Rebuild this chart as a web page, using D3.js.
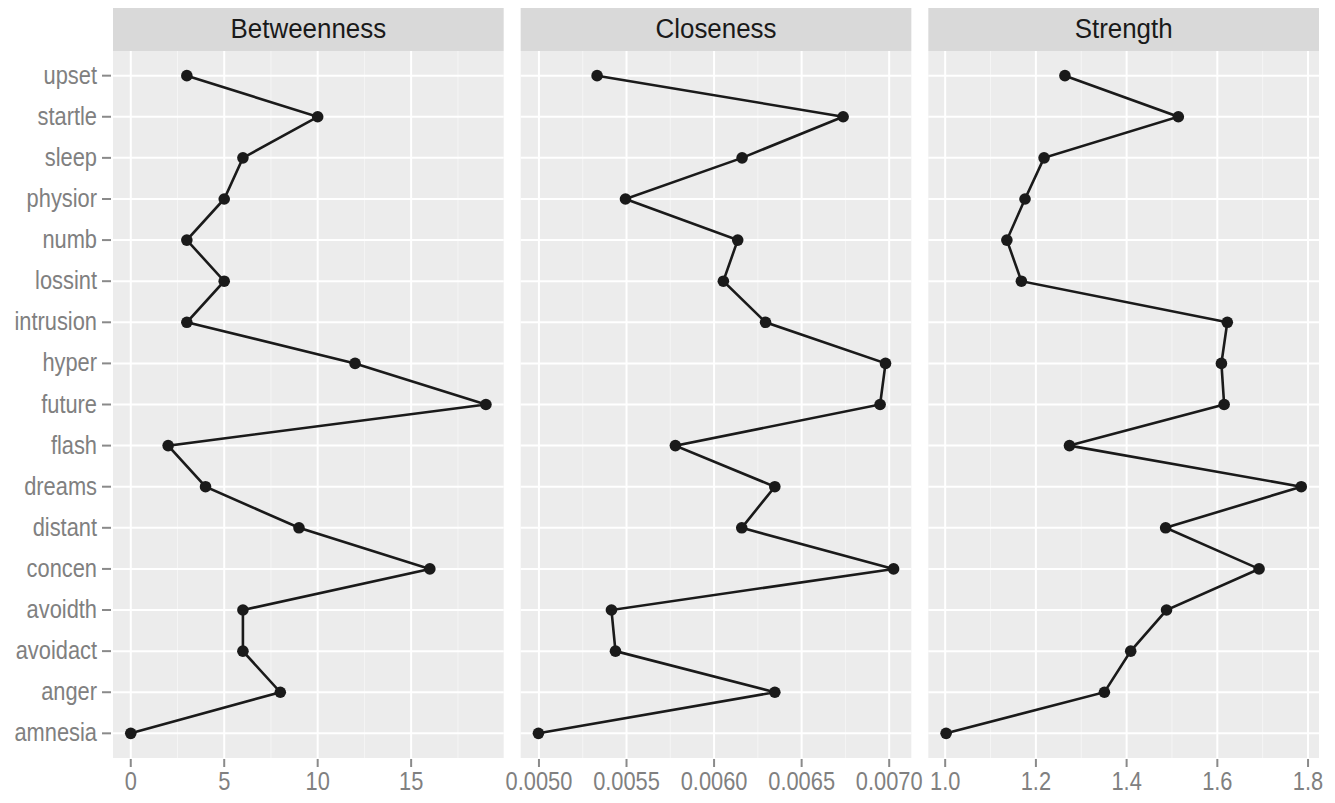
<!DOCTYPE html>
<html>
<head>
  <style>
    body { margin: 0; background: #fff; }
    text { font-family: "Liberation Sans", Arial, sans-serif; }
    .grid-major { stroke: #fff; stroke-width: 2px; }
    .grid-minor { stroke: #f5f5f5; stroke-width: 1px; }
    .tick-mark { stroke: #8a8a8a; stroke-width: 2px; }
    .tick-label { fill: #808080; font-size: 26px; }
    .strip-label { fill: #1a1a1a; font-size: 27px; }
  </style>
</head>
<body>
  <script src="https://d3js.org/d3.v7.min.js"></script>
  <script>
    var width = 1335, height = 803;

    // nodes, top to bottom
    var nodes = ["upset", "startle", "sleep", "physior", "numb", "lossint", "intrusion", "hyper",
                 "future", "flash", "dreams", "distant", "concen", "avoidth", "avoidact", "anger", "amnesia"];

    var betweenness = [3, 10, 6, 5, 3, 5, 3, 12, 19, 2, 4, 9, 16, 6, 6, 8, 0];
    var closeness = [0.005332, 0.006737, 0.006160, 0.005494, 0.006135, 0.006053, 0.006294, 0.006979,
                     0.006948, 0.005779, 0.006347, 0.006158, 0.007025, 0.005414, 0.005437, 0.006347, 0.004997];
    var strength = [1.264, 1.514, 1.218, 1.176, 1.136, 1.168, 1.622, 1.609,
                    1.615, 1.274, 1.785, 1.486, 1.692, 1.488, 1.409, 1.351, 1.002];

    var betweennessTicks = [0, 5, 10, 15];
    var closenessTicks = [0.0050, 0.0055, 0.0060, 0.0065, 0.0070];
    var strengthTicks = [1.0, 1.2, 1.4, 1.6, 1.8];

    var panels = [
      {title: "Betweenness", values: betweenness, ticks: betweennessTicks, fmt: d3.format("d")},
      {title: "Closeness", values: closeness, ticks: closenessTicks, fmt: d3.format(".4f")},
      {title: "Strength", values: strength, ticks: strengthTicks, fmt: d3.format(".1f")}
    ];

    var left = 113, right = 1319, gap = 17,
        stripTop = 8, panelTop = 51, panelBottom = 758;
    var pw = (right - left - 2 * gap) / 3;

    // narrow the text a bit, the original used a condensed face
    var labelSquash = 0.84, stripSquash = 0.96;

    var svg = d3.select("body").append("svg")
        .attr("width", width)
        .attr("height", height);

    // discrete y with ggplot's 0.6 expansion
    var y = d3.scalePoint()
        .domain(nodes)
        .range([panelTop, panelBottom])
        .padding(0.6);

    panels.forEach(function(p, i) {
      var x0 = left + i * (pw + gap);
      var ext = d3.extent(p.values), pad = (ext[1] - ext[0]) * 0.05;
      var x = d3.scaleLinear()
          .domain([ext[0] - pad, ext[1] + pad])
          .range([x0, x0 + pw]);

      var g = svg.append("g");

      // strip
      g.append("rect")
          .attr("x", x0).attr("y", stripTop)
          .attr("width", pw).attr("height", panelTop - stripTop)
          .attr("fill", "#d9d9d9");
      g.append("text")
          .attr("class", "strip-label")
          .attr("transform", "translate(" + (x0 + pw / 2) + "," + 38 + ") scale(" + stripSquash + ",1)")
          .attr("text-anchor", "middle")
          .text(p.title);

      // panel background
      g.append("rect")
          .attr("x", x0).attr("y", panelTop)
          .attr("width", pw).attr("height", panelBottom - panelTop)
          .attr("fill", "#ececec");

      // minor grid: midpoints between breaks
      var step = p.ticks[1] - p.ticks[0];
      var minor = d3.range(-1, p.ticks.length).map(function(k) { return p.ticks[0] + (k + 0.5) * step; })
          .filter(function(v) { var d = x.domain(); return v > d[0] && v < d[1]; });

      g.selectAll(".grid-minor").data(minor).enter().append("line")
          .attr("class", "grid-minor")
          .attr("x1", x).attr("x2", x)
          .attr("y1", panelTop).attr("y2", panelBottom);

      g.selectAll(".grid-major.v").data(p.ticks).enter().append("line")
          .attr("class", "grid-major v")
          .attr("x1", x).attr("x2", x)
          .attr("y1", panelTop).attr("y2", panelBottom);

      g.selectAll(".grid-major.h").data(nodes).enter().append("line")
          .attr("class", "grid-major h")
          .attr("x1", x0).attr("x2", x0 + pw)
          .attr("y1", y).attr("y2", y);

      // x axis ticks
      g.selectAll(".xtick").data(p.ticks).enter().append("line")
          .attr("class", "tick-mark")
          .attr("x1", x).attr("x2", x)
          .attr("y1", panelBottom + 1).attr("y2", panelBottom + 9);

      g.selectAll(".xlab").data(p.ticks).enter().append("text")
          .attr("class", "tick-label")
          .attr("transform", function(d) { return "translate(" + x(d) + ",790) scale(" + labelSquash + ",1)"; })
          .attr("text-anchor", "middle")
          .text(p.fmt);

      // y axis only on first panel
      if (i === 0) {
        g.selectAll(".ytick").data(nodes).enter().append("line")
            .attr("class", "tick-mark")
            .attr("x1", x0 - 11).attr("x2", x0 - 2)
            .attr("y1", y).attr("y2", y);
        g.selectAll(".ylab").data(nodes).enter().append("text")
            .attr("class", "tick-label")
            .attr("transform", function(d) { return "translate(" + (x0 - 16) + "," + (y(d) + 8) + ") scale(" + labelSquash + ",1)"; })
            .attr("text-anchor", "end")
            .text(function(d) { return d; });
      }

      var pts = nodes.map(function(n, j) { return {node: n, value: p.values[j]}; });

      var line = d3.line()
          .x(function(d) { return x(d.value); })
          .y(function(d) { return y(d.node); });

      g.append("path")
          .datum(pts)
          .attr("d", line)
          .attr("fill", "none")
          .attr("stroke", "#1a1a1a")
          .attr("stroke-width", 2.6);

      g.selectAll(".pt").data(pts).enter().append("circle")
          .attr("cx", function(d) { return x(d.value); })
          .attr("cy", function(d) { return y(d.node); })
          .attr("r", 5.8)
          .attr("fill", "#1a1a1a");
    });
  </script>
</body>
</html>
